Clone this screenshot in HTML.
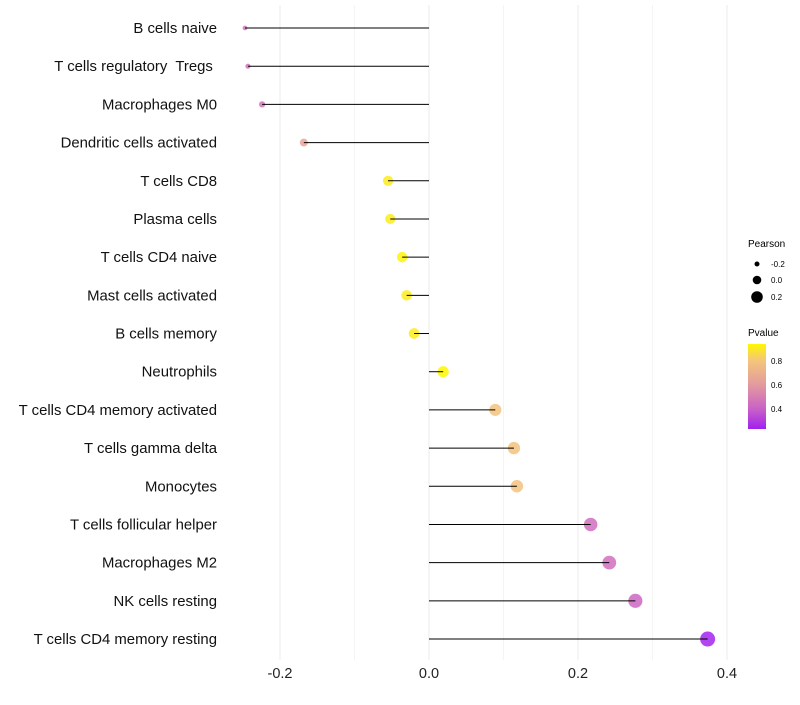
<!DOCTYPE html>
<html><head><meta charset="utf-8"><style>
body{margin:0;background:#fff;font-family:"Liberation Sans",sans-serif}
text{white-space:pre}
</style></head><body>
<svg id="chart" width="800" height="700" xmlns="http://www.w3.org/2000/svg" font-family="Liberation Sans, sans-serif">
<g id="grid"></g><g id="marks"></g><g id="labels"></g>
<g>
<text x="748" y="247" font-size="10">Pearson</text>
<circle cx="757" cy="264" r="2.5" fill="#000"/><text x="771" y="267" font-size="8">-0.2</text>
<circle cx="757" cy="280" r="4.3" fill="#000"/><text x="771" y="283" font-size="8">0.0</text>
<circle cx="757" cy="297" r="5.8" fill="#000"/><text x="771" y="300" font-size="8">0.2</text>
<text x="748" y="336" font-size="10">Pvalue</text>
<defs><linearGradient id="pg" x1="0" y1="1" x2="0" y2="0">
<stop offset="0" stop-color="#A020F0"/><stop offset="0.23" stop-color="#C960C8"/><stop offset="0.52" stop-color="#E39A9E"/><stop offset="0.81" stop-color="#F4C67A"/><stop offset="1" stop-color="#FFF700"/></linearGradient></defs>
<rect x="748" y="344" width="18" height="85" fill="url(#pg)"/>
<text x="771" y="364" font-size="8">0.8</text><text x="771" y="388" font-size="8">0.6</text><text x="771" y="412" font-size="8">0.4</text>
</g>
</svg>
<script>
const categories=["B cells naive","T cells regulatory  Tregs ","Macrophages M0","Dendritic cells activated","T cells CD8","Plasma cells","T cells CD4 naive","Mast cells activated","B cells memory","Neutrophils","T cells CD4 memory activated","T cells gamma delta","Monocytes","T cells follicular helper","Macrophages M2","NK cells resting","T cells CD4 memory resting"];
const pearson=[-0.247,-0.243,-0.224,-0.168,-0.055,-0.052,-0.036,-0.030,-0.020,0.019,0.089,0.114,0.118,0.217,0.242,0.277,0.374];
const pvalue=[0.47,0.46,0.47,0.65,0.9,0.9,0.92,0.9,0.9,0.93,0.78,0.78,0.78,0.45,0.45,0.42,0.25];
const xticks=[-0.2,0,0.2,0.4];
const xminor=[-0.1,0.1,0.3];
const NS="http://www.w3.org/2000/svg";
const x=v=>429+v*745;
const y=i=>28+i*38.19;
const r=v=>2+5.5*Math.sqrt(Math.max(0,(v+0.25)/0.625));
const stops=[[0.24,[160,32,240]],[0.4,[201,96,200]],[0.6,[227,154,158]],[0.8,[244,198,122]],[0.93,[255,247,0]]];
function col(p){if(p<=stops[0][0])return stops[0][1];for(let k=1;k<stops.length;k++){if(p<=stops[k][0]){const a=stops[k-1],b=stops[k],t=(p-a[0])/(b[0]-a[0]);return a[1].map((c,j)=>Math.round(c+(b[1][j]-c)*t));}}return stops[stops.length-1][1];}
function mk(t,a,parent){const e=document.createElementNS(NS,t);for(const k in a)e.setAttribute(k,a[k]);parent.appendChild(e);return e;}
const grid=document.getElementById('grid'),marks=document.getElementById('marks'),labels=document.getElementById('labels');
xminor.forEach(v=>{const l=mk('line',{x1:x(v),x2:x(v),y1:5,y2:660,stroke:'#f4f4f4','stroke-width':1},grid);

});
xticks.forEach(v=>{const l=mk('line',{x1:x(v),x2:x(v),y1:5,y2:660,stroke:'#ebebeb','stroke-width':1},grid);


const t=mk('text',{x:x(v),y:678,'font-size':14.5,'text-anchor':'middle',fill:'#222'},labels);t.textContent=v===0?'0.0':v.toFixed(1);

});
categories.forEach((c,i)=>{
const cc=col(pvalue[i]);
const p=mk('circle',{cx:x(pearson[i]),cy:y(i),r:r(pearson[i]),fill:`rgb(${cc})`,'fill-opacity':0.85},marks);


const s=mk('line',{x1:x(0),x2:x(pearson[i]),y1:y(i),y2:y(i),stroke:'#000','stroke-width':1},marks);


const t=mk('text',{x:217,y:y(i)+5,'font-size':14.9,'text-anchor':'end',fill:'#111'},labels);t.textContent=c;


});
</script>
</body></html>
